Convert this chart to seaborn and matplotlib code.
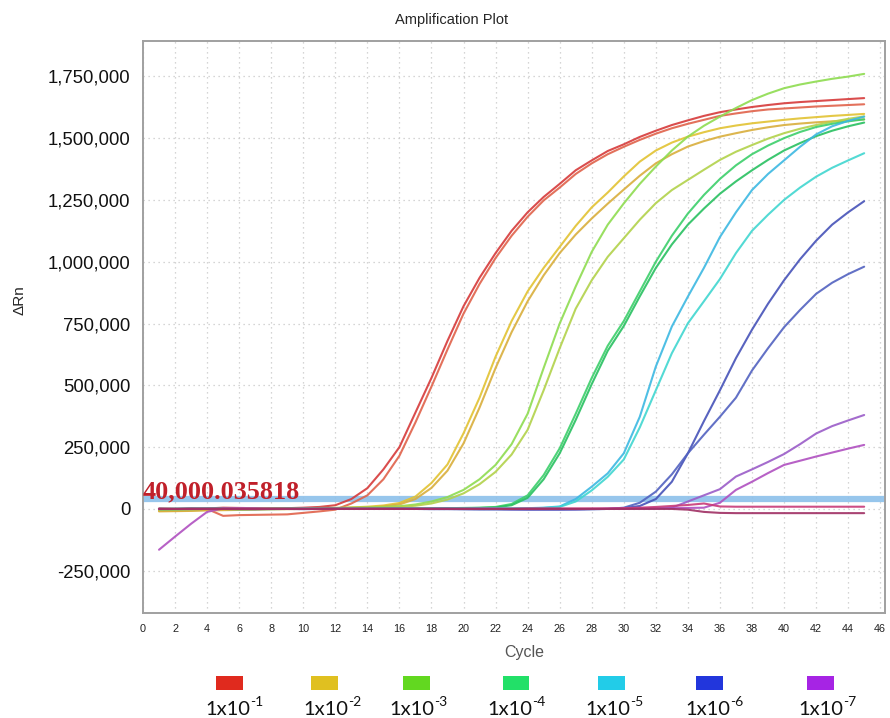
import matplotlib
matplotlib.use("Agg")
import matplotlib.pyplot as plt
import seaborn as sns
import pandas as pd
from matplotlib.patches import Rectangle

# ---------------- data (ΔRn in thousands) ----------------
cycles = list(range(1, 46))

r1 = [2, 0, -3, 2, 5, 4, 3, 2, 3, 5, 8, 15,
      40, 84, 160, 250, 390, 530, 680, 820, 935, 1035, 1125, 1200,
      1262, 1315, 1370, 1410, 1448, 1475, 1505, 1530, 1553, 1572, 1590, 1605,
      1616, 1626, 1634, 1641, 1646, 1650, 1654, 1658, 1662]
r2 = [-5, -6, -4, 0, -28, -25, -24, -23, -22, -16, -10, -3,
      22, 55, 120, 215, 350, 495, 645, 790, 910, 1015, 1105, 1182,
      1248, 1300, 1355, 1398, 1435, 1465, 1493, 1518, 1540, 1558, 1574, 1590,
      1600, 1609, 1616, 1620, 1624, 1628, 1631, 1634, 1637]
y1 = [-8, -8, -6, -4, -3, -2, 0, 0, 1, 2, 3, 4,
      6, 9, 14, 24, 50, 105, 180, 306, 450, 616, 760, 880,
      975, 1060, 1145, 1220, 1280, 1345, 1405, 1450, 1482, 1506, 1524, 1540,
      1551, 1560, 1567, 1574, 1580, 1585, 1590, 1594, 1598]
y2 = [-10, -9, -8, -6, -5, -4, -3, -2, -1, 0, 1, 2,
      4, 6, 10, 18, 40, 85, 155, 265, 410, 570, 715, 840,
      945, 1035, 1110, 1175, 1235, 1292, 1348, 1398, 1435, 1466, 1488, 1506,
      1520, 1533, 1544, 1553, 1559, 1564, 1568, 1572, 1576]
g3a = [0, 1, 2, 2, 3, 3, 2, 2, 3, 3, 4, 4,
       5, 6, 8, 11, 18, 30, 48, 77, 120, 178, 262, 385,
       570, 750, 900, 1040, 1150, 1236, 1315, 1385, 1450, 1506, 1550, 1587,
       1622, 1654, 1680, 1702, 1717, 1729, 1740, 1749, 1760]
g3b = [-2, -1, 0, 0, 1, 1, 1, 2, 2, 2, 3, 3,
       4, 5, 6, 8, 13, 22, 38, 63, 100, 150, 220, 320,
       480, 650, 810, 925, 1020, 1095, 1170, 1237, 1290, 1331, 1372, 1412,
       1445, 1472, 1498, 1520, 1538, 1553, 1566, 1578, 1588]
g4a = [0, 0, 1, 1, 1, 0, 0, 0, 1, 1, 1, 1,
       1, 1, 2, 2, 2, 3, 3, 4, 5, 8, 20, 55,
       137, 245, 385, 530, 660, 760, 880, 1000, 1105, 1195, 1270, 1335,
       1390, 1435, 1470, 1500, 1525, 1545, 1558, 1568, 1576]
g4b = [-1, -1, 0, 0, 0, -1, -1, 0, 0, 0, 0, 1,
       1, 1, 1, 2, 2, 2, 3, 3, 4, 6, 15, 45,
       120, 225, 360, 505, 640, 740, 860, 975, 1070, 1150, 1215, 1275,
       1325, 1370, 1412, 1450, 1480, 1508, 1530, 1548, 1563]
c1 = [-1, 0, 0, 1, 0, -1, 0, 0, 0, 1, 0, 0,
      0, 0, 0, 1, 1, 1, 1, 1, 2, 2, 2, 3,
      5, 10, 40, 90, 144, 225, 373, 576, 738, 859, 975, 1100,
      1200, 1290, 1355, 1410, 1465, 1515, 1548, 1570, 1587]
c2 = [0, -1, -1, 0, 0, 0, 0, -1, 0, 0, 0, 0,
      0, 0, 0, 0, 1, 1, 1, 1, 1, 2, 2, 2,
      4, 8, 30, 75, 130, 200, 330, 480, 630, 751, 840, 930,
      1035, 1125, 1190, 1250, 1300, 1344, 1380, 1410, 1439]
b1 = [0, 0, 1, 0, 0, 0, -1, 0, 0, 0, 0, 0,
      0, 0, 0, 0, 0, 0, 0, -1, -1, -1, -2, -2,
      -2, -2, -2, -1, 0, 3, 12, 40, 110, 225, 355, 480,
      610, 725, 830, 925, 1010, 1085, 1150, 1200, 1245]
b2 = [0, 0, 0, 0, 1, 0, 0, 0, 0, -1, 0, 0,
      0, 0, 0, 0, 0, -1, -1, -1, -2, -2, -2, -3,
      -3, -3, -2, -1, 0, 5, 25, 70, 140, 225, 300, 373,
      450, 560, 650, 735, 805, 870, 915, 950, 980]
p1 = [0, 0, 0, 0, 0, 0, 0, 0, 0, 0, 0, 0,
      0, 0, 0, 0, 0, 0, 0, 0, 0, 0, -1, -1,
      -1, -1, -1, 0, 0, 1, 2, 3, 5, 30, 55, 80,
      131, 160, 190, 222, 262, 305, 335, 358, 380]
p2 = [-165, -112, -60, -12, 2, 3, 2, 0, 0, 0, 0, 0,
      0, 0, 0, 0, 0, 0, 0, 0, 0, 0, 0, 0,
      0, 0, 0, 0, 1, 1, 2, 2, 3, 4, 5, 25,
      77, 110, 145, 178, 195, 212, 228, 244, 259]
n1 = [0, 0, 1, 1, 1, 1, 1, 1, 1, 1, 1, 1,
      1, 1, 1, 1, 1, 1, 1, 1, 1, 1, 1, 2,
      2, 2, 2, 2, 2, 3, 5, 8, 12, 16, 22, 10,
      9, 9, 9, 9, 9, 9, 9, 9, 9]
n2 = [0, 0, 0, 0, 0, 0, 0, 0, 0, 0, 0, 0,
      0, 0, 0, 0, 0, 0, 0, 0, 0, 0, 0, 0,
      0, 0, 0, 0, 0, 0, 0, 0, 0, -3, -12, -16,
      -17, -17, -17, -17, -17, -17, -17, -17, -17]

curves = {"r1": r1, "r2": r2, "y1": y1, "y2": y2, "g3a": g3a, "g3b": g3b,
          "g4a": g4a, "g4b": g4b, "c1": c1, "c2": c2, "b1": b1, "b2": b2,
          "p1": p1, "p2": p2, "n1": n1, "n2": n2}
curve_colors = {"r1": "#d63a3a", "r2": "#e0624a", "y1": "#e2c232", "y2": "#d9ae3c",
                "g3a": "#8edc50", "g3b": "#b2d24a", "g4a": "#3ccf6a", "g4b": "#28c060",
                "c1": "#3cb8e2", "c2": "#40d6d0", "b1": "#4652b8", "b2": "#5262c0",
                "p1": "#9a5cc8", "p2": "#b050c0", "n1": "#c83a78", "n2": "#a03064"}

threshold = 40000
threshold_label = "40,000.035818"

legend_base = "1x10"
legend_exps = ["-1", "-2", "-3", "-4", "-5", "-6", "-7"]
legend_colors = ["#e02a1e", "#e0c020", "#62d820", "#22e068", "#22cce8", "#2236dc", "#a624e4"]

x_ticks = list(range(0, 47, 2))
y_ticks = [-250000, 0, 250000, 500000, 750000, 1000000, 1250000, 1500000, 1750000]

# ---------------- build table ----------------
rows = []
for name, vals in curves.items():
    for c, v in zip(cycles, vals):
        rows.append({"curve": name, "cycle": c, "drn": v * 1000})
df = pd.DataFrame(rows)

# ---------------- figure ----------------
sns.set_style("white")
plt.rcParams["font.family"] = ["Liberation Sans", "DejaVu Sans"]

W, H = 890, 718
fig = plt.figure(figsize=(W / 100, H / 100), dpi=100)
ax = fig.add_axes([143 / W, 1 - 613 / H, (885 - 143) / W, (613 - 41) / H])

ax.set_xlim(0, 46.3)
ax.set_ylim(-421000, 1893000)
ax.set_xticks(x_ticks)
ax.set_yticks(y_ticks)
ax.set_xticklabels([str(t) for t in x_ticks], fontsize=7.8, color="#222222")
ax.set_yticklabels([f"{t:,}" for t in y_ticks], fontsize=13.3, color="#111111")
ax.tick_params(axis="both", direction="out", length=5, width=1, color="#999999")
ax.tick_params(axis="y", pad=4)
ax.tick_params(axis="x", pad=3)
ax.grid(True, color="#c8c8c8", linestyle=(0, (1, 3)), linewidth=0.9)
for s in ax.spines.values():
    s.set_color("#a0a0a0")
    s.set_linewidth(1.4)

# threshold
ax.axhline(threshold, color="#8cc0ea", linewidth=4.5, zorder=1)

sns.lineplot(data=df, x="cycle", y="drn", hue="curve", palette=curve_colors,
             estimator=None, sort=False, legend=False, linewidth=1.5, ax=ax, zorder=3)
for ln in ax.get_lines():
    ln.set_alpha(0.9)

ax.text(0.0, threshold + 2000, threshold_label, fontsize=18.8, fontweight="bold",
        color="#c0202a", family=["Liberation Serif", "DejaVu Serif"],
        ha="left", va="baseline", zorder=5)

ax.set_xlabel("")
ax.set_ylabel("")

fig.text(452 / W, 1 - 20 / H, "Amplification Plot", ha="center", va="center", fontsize=10.5)
fig.text(20 / W, 1 - 300 / H, "ΔRn", ha="center", va="center", rotation=90, fontsize=11)
fig.text(524 / W, 1 - 653 / H, "Cycle", ha="center", va="center", fontsize=11.5, color="#555555")

# custom legend
sq_left = [216, 311, 403, 503, 598, 696, 807]
lab_left = [205, 303, 389, 487, 585, 685, 798]
fig.canvas.draw()
renderer = fig.canvas.get_renderer()
for xl, xt, col, ex in zip(sq_left, lab_left, legend_colors, legend_exps):
    fig.patches.append(Rectangle((xl / W, 1 - 690 / H), 26.5 / W, 14 / H,
                                 transform=fig.transFigure, facecolor=col,
                                 edgecolor="none", figure=fig))
    t = fig.text(xt / W, 1 - 715 / H, legend_base, ha="left", va="baseline", fontsize=14.5,
                 family=["Lato", "DejaVu Sans"], color="#111111")
    bb = t.get_window_extent(renderer)
    fig.text(bb.x1 / W + 0.5 / W, 1 - 706 / H, ex, ha="left", va="baseline", fontsize=10,
             family=["Lato", "DejaVu Sans"], color="#111111")

fig.savefig("out.png", dpi=100)
